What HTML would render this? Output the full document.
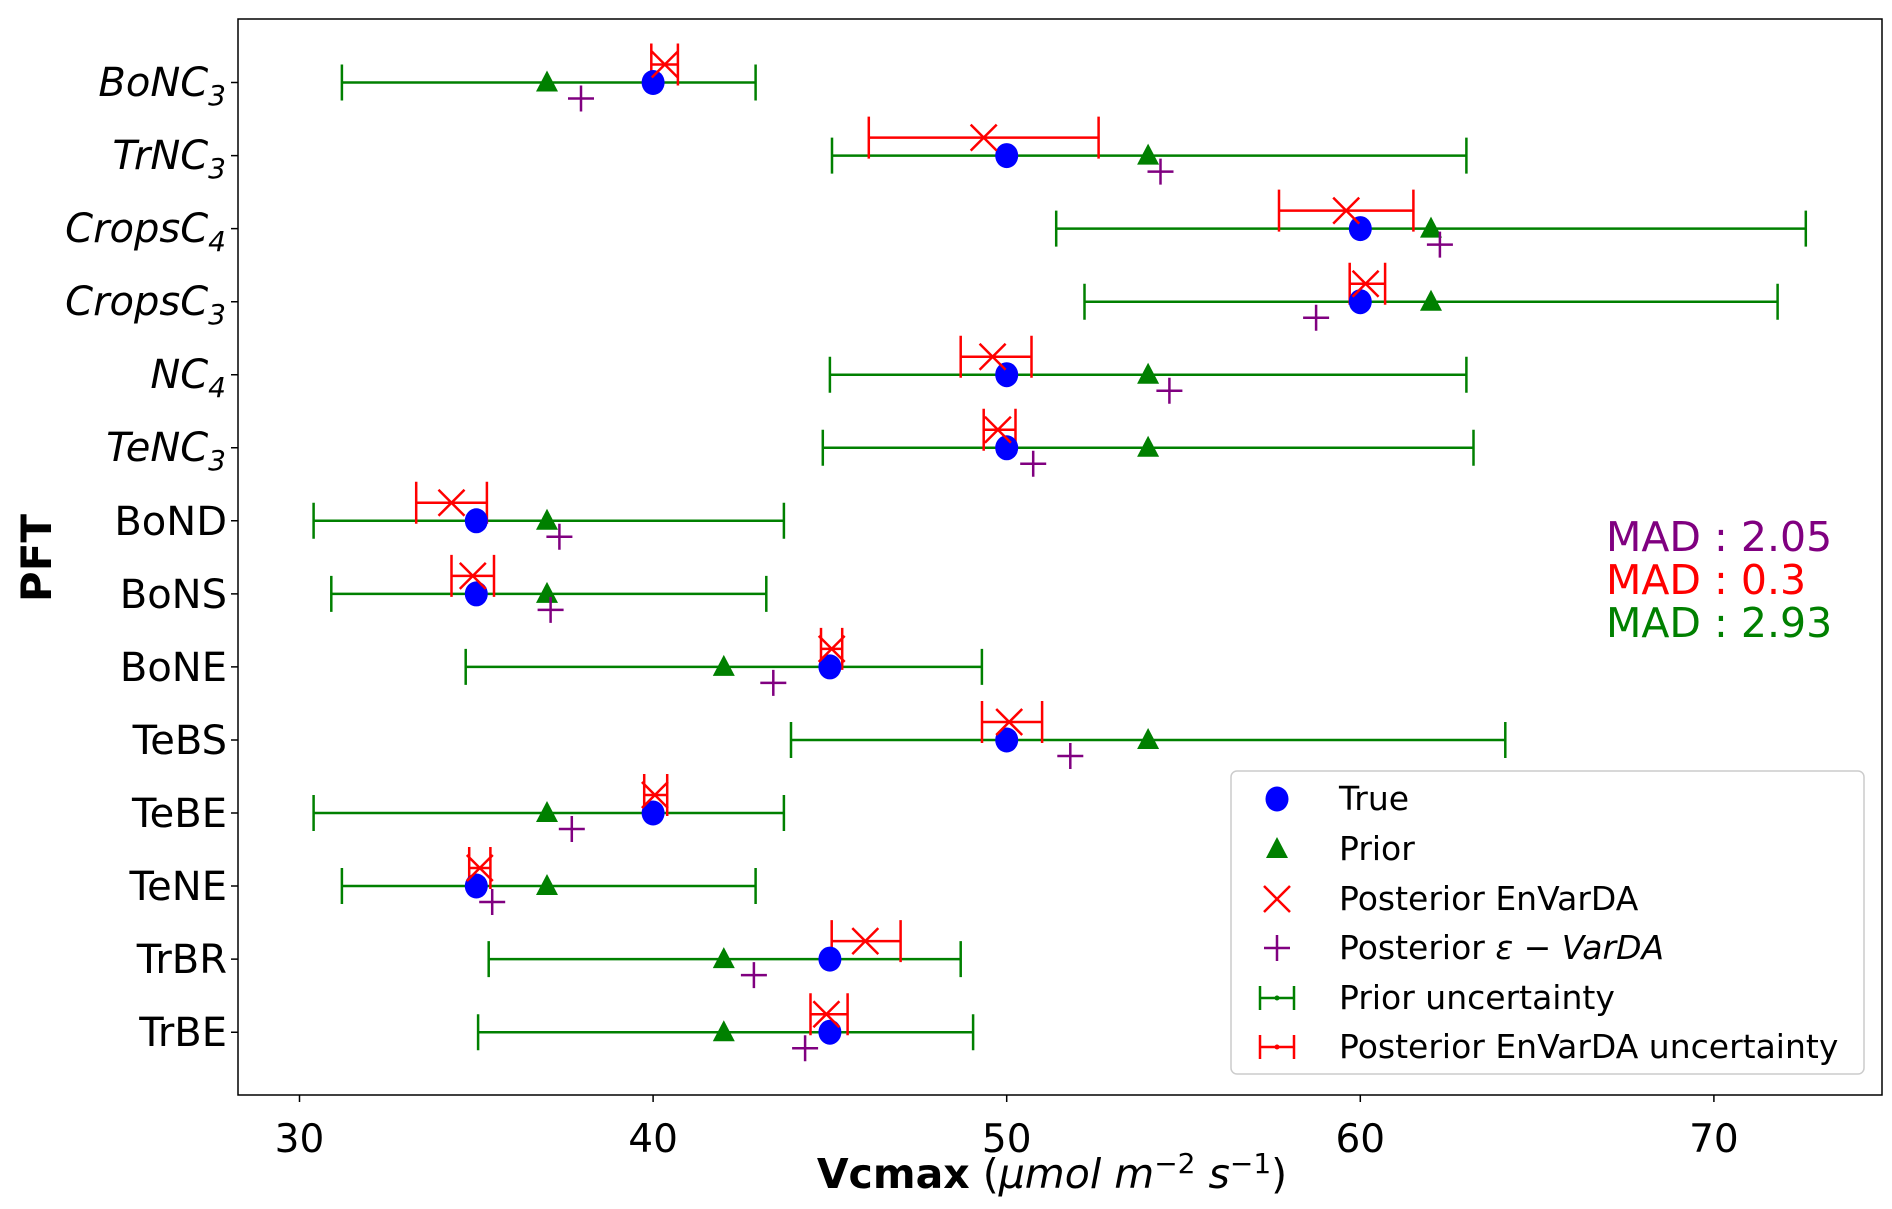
<!DOCTYPE html>
<html><head><meta charset="utf-8"><style>body{margin:0;background:#fff}svg{display:block}text{font-family:"DejaVu Sans","Liberation Sans",sans-serif}</style></head>
<body>
<svg width="1892" height="1209" viewBox="0 0 1892 1209" xmlns="http://www.w3.org/2000/svg">
<defs>
<g id="c"><ellipse cx="0" cy="0" rx="11.5" ry="12.5" fill="#0000ff"/></g>
<g id="t"><polygon points="0,-12 11,9 -11,9" fill="#008000"/></g>
<g id="x"><path d="M-13,-13L13,13M13,-13L-13,13" stroke="#ff0000" stroke-width="2.5"/></g>
<g id="p"><path d="M-13,0H13M0,-13V13" stroke="#800080" stroke-width="2.5"/></g>
</defs>
<rect x="238" y="19" width="1644" height="1076" fill="none" stroke="#000" stroke-width="1.5"/>
<g stroke="#000" stroke-width="1.5">
<path d="M299.5,1095v7M653.1,1095v7M1006.7,1095v7M1360.3,1095v7M1713.9,1095v7"/>
<path d="M238,82.5h-7M238,155.6h-7M238,228.6h-7M238,301.7h-7M238,374.7h-7M238,447.8h-7M238,520.8h-7M238,593.9h-7M238,666.9h-7M238,740h-7M238,813h-7M238,886h-7M238,959.1h-7M238,1032.2h-7"/>
</g>
<g font-size="39" text-anchor="middle" fill="#000">
<text x="299.5" y="1152">30</text><text x="653.1" y="1152">40</text><text x="1006.7" y="1152">50</text><text x="1360.3" y="1152">60</text><text x="1713.9" y="1152">70</text>
</g>
<g font-size="40" text-anchor="end" fill="#000">
<text x="226" y="96" font-style="italic">BoNC<tspan font-size="28" dy="9">3</tspan></text>
<text x="226" y="169" font-style="italic">TrNC<tspan font-size="28" dy="9">3</tspan></text>
<text x="226" y="242" font-style="italic">CropsC<tspan font-size="28" dy="9">4</tspan></text>
<text x="226" y="315" font-style="italic">CropsC<tspan font-size="28" dy="9">3</tspan></text>
<text x="226" y="388" font-style="italic">NC<tspan font-size="28" dy="9">4</tspan></text>
<text x="226" y="461" font-style="italic">TeNC<tspan font-size="28" dy="9">3</tspan></text>
<text x="227" y="535">BoND</text>
<text x="227" y="608">BoNS</text>
<text x="227" y="681">BoNE</text>
<text x="227" y="754">TeBS</text>
<text x="227" y="827">TeBE</text>
<text x="227" y="900">TeNE</text>
<text x="227" y="973">TrBR</text>
<text x="227" y="1046">TrBE</text>
</g>
<text x="1052" y="1188" font-size="41" text-anchor="middle"><tspan font-weight="bold">Vcmax</tspan> (<tspan font-style="italic">μmol m</tspan><tspan font-size="28" dy="-15">−2</tspan><tspan dy="15" font-style="italic"> s</tspan><tspan font-size="28" dy="-15">−1</tspan><tspan dy="15">)</tspan></text>
<text transform="translate(51,558) rotate(-90)" font-size="42" font-weight="bold" text-anchor="middle">PFT</text>
<g stroke="#008000" stroke-width="2.5" fill="none">
<path d="M341.9,82.5H755.6M341.9,64.5v36M755.6,64.5v36"/>
<path d="M832,155.6H1466.4M832,137.6v36M1466.4,137.6v36"/>
<path d="M1056.2,228.6H1805.8M1056.2,210.6v36M1805.8,210.6v36"/>
<path d="M1084.5,301.7H1777.6M1084.5,283.7v36M1777.6,283.7v36"/>
<path d="M829.9,374.7H1466.4M829.9,356.7v36M1466.4,356.7v36"/>
<path d="M822.8,447.8H1473.5M822.8,429.8v36M1473.5,429.8v36"/>
<path d="M313.6,520.8H783.9M313.6,502.8v36M783.9,502.8v36"/>
<path d="M331.3,593.9H766.3M331.3,575.9v36M766.3,575.9v36"/>
<path d="M465.7,666.9H981.9M465.7,648.9v36M981.9,648.9v36"/>
<path d="M791,740H1505.3M791,722v36M1505.3,722v36"/>
<path d="M313.6,813H783.9M313.6,795v36M783.9,795v36"/>
<path d="M341.9,886H755.6M341.9,868v36M755.6,868v36"/>
<path d="M488.7,959.1H960.7M488.7,941.1v36M960.7,941.1v36"/>
<path d="M478.1,1032.2H973.1M478.1,1014.2v36M973.1,1014.2v36"/>
</g>
<g stroke="#ff0000" stroke-width="2.5" fill="none">
<path d="M651.3,64.5H677.9M651.3,43.5v42M677.9,43.5v42"/>
<path d="M868.8,137.6H1098.6M868.8,116.6v42M1098.6,116.6v42"/>
<path d="M1279,210.6H1413.4M1279,189.6v42M1413.4,189.6v42"/>
<path d="M1349.7,283.7H1385.1M1349.7,262.7v42M1385.1,262.7v42"/>
<path d="M960.7,356.7H1031.5M960.7,335.7v42M1031.5,335.7v42"/>
<path d="M983.7,429.8H1015.5M983.7,408.8v42M1015.5,408.8v42"/>
<path d="M416.2,502.8H486.9M416.2,481.8v42M486.9,481.8v42"/>
<path d="M451.5,575.9H494M451.5,554.9v42M494,554.9v42"/>
<path d="M821,648.9H842.2M821,627.9v42M842.2,627.9v42"/>
<path d="M982,722H1042.1M982,701v42M1042.1,701v42"/>
<path d="M644.2,795H667.2M644.2,774v42M667.2,774v42"/>
<path d="M469.2,868H490.4M469.2,847v42M490.4,847v42"/>
<path d="M831.7,941.1H900.6M831.7,920.1v42M900.6,920.1v42"/>
<path d="M810.5,1014.2H847.6M810.5,993.2v42M847.6,993.2v42"/>
</g>
<use href="#c" x="653.1" y="82.5"/><use href="#c" x="1006.7" y="155.6"/><use href="#c" x="1360.3" y="228.6"/><use href="#c" x="1360.3" y="301.7"/><use href="#c" x="1006.7" y="374.7"/><use href="#c" x="1006.7" y="447.8"/><use href="#c" x="476.3" y="520.8"/><use href="#c" x="476.3" y="593.9"/><use href="#c" x="829.9" y="666.9"/><use href="#c" x="1006.7" y="740"/><use href="#c" x="653.1" y="813"/><use href="#c" x="476.3" y="886"/><use href="#c" x="829.9" y="959.1"/><use href="#c" x="829.9" y="1032.2"/>
<use href="#t" x="547" y="82.5"/><use href="#t" x="1148.1" y="155.6"/><use href="#t" x="1431" y="228.6"/><use href="#t" x="1431" y="301.7"/><use href="#t" x="1148.1" y="374.7"/><use href="#t" x="1148.1" y="447.8"/><use href="#t" x="547" y="520.8"/><use href="#t" x="547" y="593.9"/><use href="#t" x="723.8" y="666.9"/><use href="#t" x="1148.1" y="740"/><use href="#t" x="547" y="813"/><use href="#t" x="547" y="886"/><use href="#t" x="723.8" y="959.1"/><use href="#t" x="723.8" y="1032.2"/>
<use href="#x" x="664.8" y="64.5"/><use href="#x" x="983.7" y="137.6"/><use href="#x" x="1346.2" y="210.6"/><use href="#x" x="1365.6" y="283.7"/><use href="#x" x="992.6" y="356.7"/><use href="#x" x="997.9" y="429.8"/><use href="#x" x="451.5" y="502.8"/><use href="#x" x="472.8" y="575.9"/><use href="#x" x="831.7" y="648.9"/><use href="#x" x="1009.2" y="722"/><use href="#x" x="654.9" y="795"/><use href="#x" x="479.8" y="868"/><use href="#x" x="865.3" y="941.1"/><use href="#x" x="826.4" y="1014.2"/>
<use href="#p" x="581" y="98.5"/><use href="#p" x="1160.5" y="171.6"/><use href="#p" x="1439.9" y="244.6"/><use href="#p" x="1316.1" y="317.7"/><use href="#p" x="1169.4" y="390.7"/><use href="#p" x="1033.2" y="463.8"/><use href="#p" x="559.4" y="536.8"/><use href="#p" x="550.6" y="609.9"/><use href="#p" x="773.3" y="682.9"/><use href="#p" x="1070.3" y="756"/><use href="#p" x="571.8" y="829"/><use href="#p" x="492.2" y="902"/><use href="#p" x="753.9" y="975.1"/><use href="#p" x="805.1" y="1048.2"/>
<g font-size="41">
<text x="1606" y="551" fill="#800080">MAD : 2.05</text>
<text x="1606" y="594" fill="#ff0000">MAD : 0.3</text>
<text x="1606" y="637" fill="#008000">MAD : 2.93</text>
</g>
<rect x="1231" y="771" width="633" height="303" rx="6" fill="#fff" fill-opacity="0.8" stroke="#ccc" stroke-width="1.5"/>
<use href="#c" x="1277" y="799"/>
<use href="#t" x="1277" y="849"/>
<use href="#x" x="1277" y="899"/>
<use href="#p" x="1277" y="948"/>
<g stroke="#008000" stroke-width="2.5"><path d="M1260,998H1294M1260,986v24M1294,986v24"/></g><circle cx="1277" cy="998" r="2.5" fill="#008000"/>
<g stroke="#ff0000" stroke-width="2.5"><path d="M1260,1047H1294M1260,1035v24M1294,1035v24"/></g><circle cx="1277" cy="1047" r="2.5" fill="#ff0000"/>
<g font-size="33" fill="#000">
<text x="1339" y="810">True</text>
<text x="1339" y="860">Prior</text>
<text x="1339" y="910">Posterior EnVarDA</text>
<text x="1339" y="959">Posterior <tspan font-style="italic">ε − VarDA</tspan></text>
<text x="1339" y="1009">Prior uncertainty</text>
<text x="1339" y="1058">Posterior EnVarDA uncertainty</text>
</g>
</svg>
</body></html>
